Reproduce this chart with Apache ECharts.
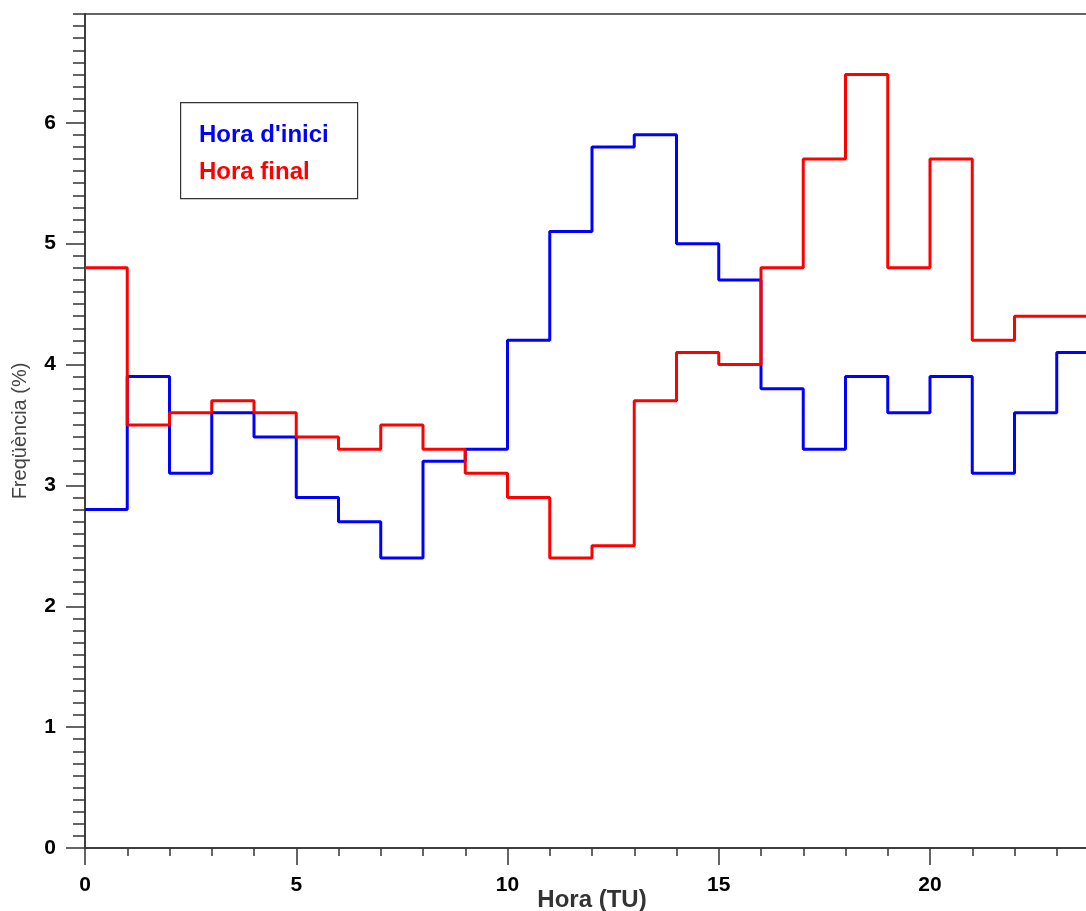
<!DOCTYPE html>
<html>
<head>
<meta charset="utf-8">
<script src="https://cdn.jsdelivr.net/npm/echarts@6/dist/echarts.min.js"></script>
<style>
html,body{margin:0;padding:0;background:#fff;}
#chart{width:1086px;height:911px;}
</style>
</head>
<body>
<div id="chart"></div>
<script>
// Hour bins (TU), each value covers [h, h+1)
const hours = [0,1,2,3,4,5,6,7,8,9,10,11,12,13,14,15,16,17,18,19,20,21,22,23];
const horaInici = [2.8,3.9,3.1,3.6,3.4,2.9,2.7,2.4,3.2,3.3,4.2,5.1,5.8,5.9,5.0,4.7,3.8,3.3,3.9,3.6,3.9,3.1,3.6,4.1];
const horaFinal = [4.8,3.5,3.6,3.7,3.6,3.4,3.3,3.5,3.3,3.1,2.9,2.4,2.5,3.7,4.1,4.0,4.8,5.7,6.4,4.8,5.7,4.2,4.4,4.4];
const seriesNames = ["Hora d'inici", "Hora final"];
const seriesColors = ['#0000ff', '#ff0000'];
const xTitle = 'Hora (TU)';
const yTitle = 'Freqüència (%)';

function toSteps(vals) {
  const pts = hours.map((h, i) => [h, vals[i]]);
  pts.push([hours[hours.length - 1] + 1, vals[vals.length - 1]]);
  return pts;
}

const FF = '"Liberation Sans", Arial, sans-serif';
const axisColor = '#333';
const chart = echarts.init(document.getElementById('chart'));
chart.setOption({
  animation: false,
  backgroundColor: '#fff',
  grid: { left: 85, top: 14, width: 1014, height: 834, containLabel: false, outerBoundsMode: 'none' },
  xAxis: [
    { type: 'value', min: 0, max: 24, interval: 1, position: 'bottom',
      axisLine: { show: true, lineStyle: { color: axisColor, width: 1.5 } },
      axisTick: { show: true, length: 8, lineStyle: { color: axisColor, width: 1.5 } },
      axisLabel: { show: false }, splitLine: { show: false } },
    { type: 'value', min: 0, max: 24, interval: 5, position: 'bottom',
      axisLine: { show: true, lineStyle: { color: axisColor, width: 1.5 } },
      axisTick: { show: true, length: 17, lineStyle: { color: axisColor, width: 1.5 } },
      axisLabel: { show: true, margin: 27, showMaxLabel: false,
        fontFamily: FF, fontWeight: 'bold', fontSize: 21, color: '#000' },
      splitLine: { show: false },
      name: xTitle, nameLocation: 'middle', nameGap: 40, nameMoveOverlap: false,
      nameTextStyle: { fontFamily: FF, fontWeight: 'bold', fontSize: 24, color: '#333', verticalAlign: 'top' } },
    { type: 'value', min: 0, max: 24, position: 'top',
      axisLine: { show: true, lineStyle: { color: axisColor, width: 1.5 } },
      axisTick: { show: false }, axisLabel: { show: false }, splitLine: { show: false } }
  ],
  yAxis: [
    { type: 'value', min: 0, max: 6.9, interval: 0.1, position: 'left',
      axisLine: { show: true, lineStyle: { color: axisColor, width: 1.5 } },
      axisTick: { show: true, length: 12, lineStyle: { color: axisColor, width: 1.5 } },
      axisLabel: { show: false }, splitLine: { show: false } },
    { type: 'value', min: 0, max: 6.9, interval: 1, position: 'left',
      axisLine: { show: true, lineStyle: { color: axisColor, width: 1.5 } },
      axisTick: { show: true, length: 19, lineStyle: { color: axisColor, width: 1.5 } },
      axisLabel: { show: true, margin: 29, showMaxLabel: false,
        fontFamily: FF, fontWeight: 'bold', fontSize: 21, color: '#000' },
      splitLine: { show: false },
      name: yTitle, nameLocation: 'middle', nameGap: 55, nameRotate: 90, nameMoveOverlap: false,
      nameTextStyle: { fontFamily: FF, fontSize: 20, color: '#444' } }
  ],
  series: [
    { name: seriesNames[0], type: 'line', step: 'end', xAxisIndex: 1, yAxisIndex: 1,
      data: toSteps(horaInici), symbol: 'none', lineStyle: { color: seriesColors[0], width: 3 },
      itemStyle: { color: seriesColors[0] }, clip: true },
    { name: seriesNames[1], type: 'line', step: 'end', xAxisIndex: 1, yAxisIndex: 1,
      data: toSteps(horaFinal), symbol: 'none', lineStyle: { color: seriesColors[1], width: 3 },
      itemStyle: { color: seriesColors[1] }, clip: true }
  ],
  graphic: [
    { type: 'rect', left: 180, top: 102, shape: { width: 177, height: 96 },
      style: { fill: '#fff', stroke: '#333', lineWidth: 1.2 }, z: 10 },
    { type: 'text', left: 199, top: 123, z: 11,
      style: { text: seriesNames[0], fill: seriesColors[0], font: 'bold 24px ' + FF } },
    { type: 'text', left: 199, top: 160, z: 11,
      style: { text: seriesNames[1], fill: seriesColors[1], font: 'bold 24px ' + FF } }
  ]
});
</script>
</body>
</html>
